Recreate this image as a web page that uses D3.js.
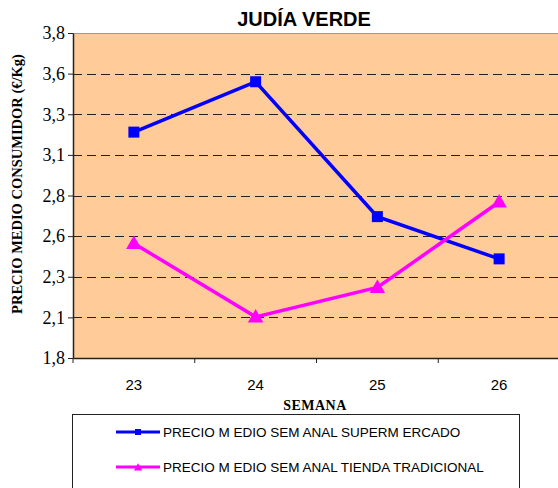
<!DOCTYPE html>
<html>
<head>
<meta charset="utf-8">
<script src="https://cdn.jsdelivr.net/npm/d3@7"></script>
<style>
  body { margin: 0; background: #fff; }
  svg { display: block; }
</style>
</head>
<body>
<svg id="chart" width="558" height="488"></svg>
<script>
var width = 558, height = 488

// data
var weeks = ['23', '24', '25', '26']
var superValues = [3.19, 3.50, 2.67, 2.41]
var tiendaValues = [2.505, 2.053, 2.234, 2.76]
var yTicks = [1.8, 2.05, 2.3, 2.55, 2.8, 3.05, 3.3, 3.55, 3.8]
var seriesNames = ['PRECIO M EDIO SEM ANAL SUPERM ERCADO', 'PRECIO M EDIO SEM ANAL TIENDA TRADICIONAL']

var serif = '"Liberation Serif", "Times New Roman", serif'
var sans = '"Liberation Sans", Arial, sans-serif'

var margin = {left: 73, top: 33}
var plotW = 487, plotH = 325

var svg = d3.select('#chart')
var g = svg.append('g').attr('transform', 'translate(' + margin.left + ',' + margin.top + ')')

var x = d3.scaleBand().domain(weeks).range([0, plotW])
var y = d3.scaleLinear().domain([1.8, 3.8]).range([plotH, 0])

// round half up, one decimal, comma separator
var fmt = function(d) { return (Math.round(d * 10 + 1e-6) / 10).toFixed(1).replace('.', ',') }

// background
g.append('rect').attr('x', 0).attr('y', 0).attr('width', plotW).attr('height', plotH)
  .attr('fill', '#FFCC99')

// gridlines
g.selectAll('line.grid')
  .data(yTicks.filter(function(d) { return d > 1.8 && d < 3.8 }))
  .enter().append('line').attr('class', 'grid')
  .attr('x1', 0).attr('x2', plotW)
  .attr('y1', function(d) { return Math.round(y(d)) + 0.5 })
  .attr('y2', function(d) { return Math.round(y(d)) + 0.5 })
  .attr('stroke', '#222').attr('stroke-width', 1)
  .attr('stroke-dasharray', '9,5')

// top border
g.append('line').attr('x1', 0).attr('x2', plotW).attr('y1', 0.5).attr('y2', 0.5)
  .attr('stroke', '#999').attr('stroke-width', 1)

// y axis
var yAxis = g.append('g').attr('font-family', serif)
  .call(d3.axisLeft(y).tickValues(yTicks).tickFormat(fmt).tickSize(5).tickSizeOuter(0))
yAxis.attr('font-family', serif).attr('font-size', 18)
yAxis.select('.domain').attr('stroke', '#222').attr('stroke-width', 1.5)
yAxis.selectAll('.tick line').attr('stroke', '#222')
yAxis.selectAll('text')
  .style('font-family', serif)
  .style('font-size', '18px').attr('fill', '#000').attr('x', -8)

// x axis
var xAxis = g.append('g').attr('transform', 'translate(0,' + plotH + ')')
  .call(d3.axisBottom(x).tickSize(0).tickSizeOuter(0))
xAxis.select('.domain').attr('stroke', '#222').attr('stroke-width', 1.5)
xAxis.selectAll('text')
  .style('font-family', sans)
  .style('font-size', '15px').attr('fill', '#000').attr('dy', 0).attr('y', 32)

// category boundary ticks
var bounds = weeks.map(function(w) { return x(w) }).concat([plotW])
g.selectAll('line.xtick').data(bounds).enter().append('line').attr('class', 'xtick')
  .attr('x1', function(d) { return d }).attr('x2', function(d) { return d })
  .attr('y1', plotH).attr('y2', plotH + 5)
  .attr('stroke', '#222')

var cx = function(d, i) { return x(weeks[i]) + x.bandwidth() / 2 }
var line = d3.line().x(cx).y(function(d) { return y(d) })

// supermercado
g.append('path').datum(superValues).attr('d', line)
  .attr('fill', 'none').attr('stroke', '#0000FF').attr('stroke-width', 3.5)
g.selectAll('rect.sq').data(superValues).enter().append('rect').attr('class', 'sq')
  .attr('x', function(d, i) { return cx(d, i) - 5.5 })
  .attr('y', function(d) { return y(d) - 5.5 })
  .attr('width', 11).attr('height', 11).attr('fill', '#0000FF')

// tienda tradicional
var tri = d3.symbol().type(d3.symbolTriangle).size(105)
g.append('path').datum(tiendaValues).attr('d', line)
  .attr('fill', 'none').attr('stroke', '#FF00FF').attr('stroke-width', 3.5)
g.selectAll('path.tri').data(tiendaValues).enter().append('path').attr('class', 'tri')
  .attr('d', tri)
  .attr('transform', function(d, i) { return 'translate(' + cx(d, i) + ',' + (y(d) + 1) + ')' })
  .attr('fill', '#FF00FF')

// title
svg.append('text').attr('x', 304).attr('y', 26).attr('text-anchor', 'middle')
  .style('font-family', sans)
  .style('font-weight', 'bold').style('font-size', '20px')
  .text('JUDÍA VERDE')

// y label
svg.append('text')
  .attr('transform', 'translate(22,184) rotate(-90)')
  .attr('text-anchor', 'middle')
  .style('font-family', serif)
  .style('font-weight', 'bold').style('font-size', '14.5px')
  .text('PRECIO MEDIO CONSUMIDOR (€/Kg)')

// x label
svg.append('text').attr('x', 315).attr('y', 410).attr('text-anchor', 'middle')
  .style('font-family', serif)
  .style('font-weight', 'bold').style('font-size', '14px')
  .style('letter-spacing', '0.5px')
  .text('SEMANA')

// legend
var legend = svg.append('g')
legend.append('rect').attr('x', 72.5).attr('y', 414.5).attr('width', 447).attr('height', 80)
  .attr('fill', '#fff').attr('stroke', '#222').attr('stroke-width', 1)

var legendColors = ['#0000FF', '#FF00FF']
var legendY = [432, 467]
seriesNames.forEach(function(name, i) {
  legend.append('line').attr('x1', 116).attr('x2', 160)
    .attr('y1', legendY[i]).attr('y2', legendY[i])
    .attr('stroke', legendColors[i]).attr('stroke-width', 3)
  if (i == 0) {
    legend.append('rect').attr('x', 135).attr('y', legendY[i] - 3).attr('width', 6).attr('height', 6)
      .attr('fill', legendColors[i])
  } else {
    legend.append('path').attr('d', d3.symbol().type(d3.symbolTriangle).size(30))
      .attr('transform', 'translate(138,' + (legendY[i] + 1) + ')')
      .attr('fill', legendColors[i])
  }
  legend.append('text').attr('x', 163).attr('y', legendY[i] + 5)
    .style('font-family', sans)
    .style('font-size', '13.5px').attr('fill', '#000')
    .text(name)
})
</script>
</body>
</html>
